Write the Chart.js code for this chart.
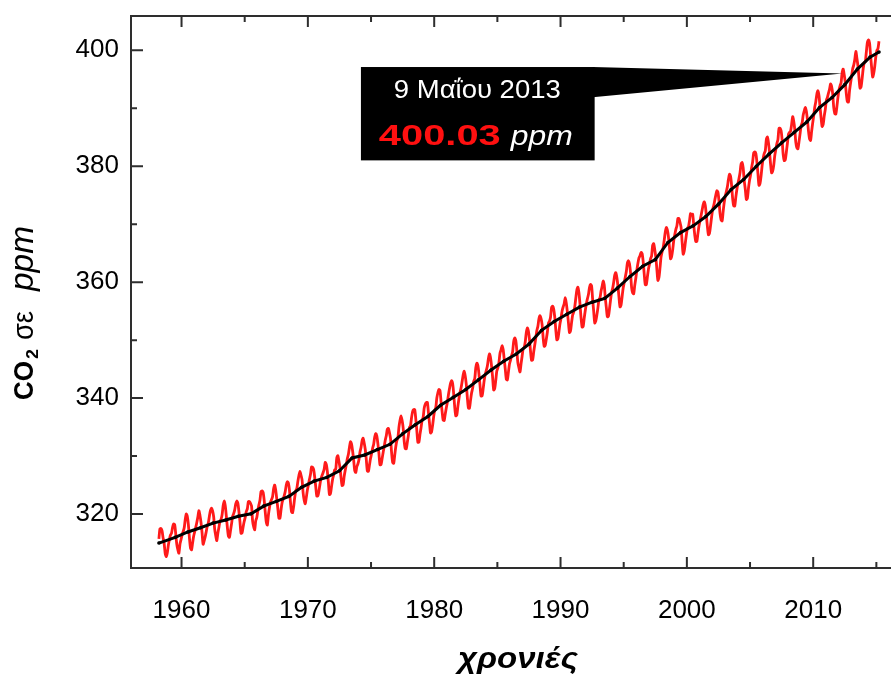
<!DOCTYPE html>
<html><head><meta charset="utf-8">
<script src="https://cdn.jsdelivr.net/npm/chart.js@4.4.1/dist/chart.umd.min.js"></script>
<style>html,body{margin:0;padding:0;background:#fff;overflow:hidden}#wrap{width:893px;height:675px;position:relative}</style>
</head><body><div id="wrap"><canvas id="c" width="893" height="675"></canvas></div>
<script>
// ---- DATA ----
const firstYear = 1958, firstMonth = 3; // series starts March 1958
const co2Monthly = [
/*1958*/ 315.71,317.45,317.50,317.10,315.86,314.93,313.20,312.66,313.33,314.67,
/*1959*/ 315.62,316.38,316.71,317.72,318.29,318.15,316.54,314.80,313.84,313.26,314.80,315.58,
/*1960*/ 316.43,316.97,317.58,319.02,320.03,319.59,318.18,315.91,314.16,313.83,315.00,316.19,
/*1961*/ 316.93,317.70,318.54,319.48,320.58,319.77,318.57,316.79,314.80,315.38,316.10,317.01,
/*1962*/ 317.94,318.56,319.68,320.63,321.01,320.55,319.58,317.40,316.26,315.42,316.69,317.69,
/*1963*/ 318.74,319.08,319.86,321.39,322.25,321.47,319.74,317.77,316.21,315.99,317.12,318.31,
/*1964*/ 319.57,320.07,320.73,321.77,322.25,321.89,320.44,318.70,316.70,316.79,317.79,318.71,
/*1965*/ 319.44,320.44,320.89,322.13,322.16,321.87,321.39,318.81,317.81,317.30,318.87,319.42,
/*1966*/ 320.62,321.59,322.39,323.87,324.01,323.75,322.39,320.37,318.64,318.10,319.79,321.08,
/*1967*/ 322.07,322.50,323.04,324.42,325.00,324.09,322.55,320.92,319.31,319.31,320.72,321.96,
/*1968*/ 322.57,323.15,323.89,325.02,325.57,325.36,324.14,322.03,320.41,320.25,321.31,322.84,
/*1969*/ 324.00,324.42,325.64,326.66,327.38,326.70,325.89,323.67,322.38,321.78,322.85,324.11,
/*1970*/ 325.03,325.99,326.87,328.13,328.07,327.66,326.35,324.69,323.10,323.16,323.98,325.13,
/*1971*/ 326.17,326.68,327.18,327.78,328.92,328.57,327.34,325.46,323.36,323.57,324.80,326.01,
/*1972*/ 326.77,327.63,327.75,329.72,330.07,329.09,328.05,326.32,324.93,325.06,326.50,327.55,
/*1973*/ 328.54,329.56,330.30,331.50,332.48,332.07,330.87,329.31,327.51,327.18,328.16,328.64,
/*1974*/ 329.35,330.71,331.48,332.65,333.09,332.25,331.18,329.40,327.44,327.37,328.46,329.58,
/*1975*/ 330.40,331.36,332.04,333.29,333.88,333.47,332.15,330.45,328.49,328.53,329.53,330.63,
/*1976*/ 331.59,332.75,333.52,334.64,334.77,334.00,333.06,330.68,328.95,328.75,330.15,331.62,
/*1977*/ 332.66,333.13,334.95,336.13,336.93,336.17,334.88,332.56,331.29,331.27,332.41,333.60,
/*1978*/ 334.95,335.25,336.66,337.69,338.03,338.01,336.41,334.41,332.37,332.41,333.75,334.90,
/*1979*/ 336.14,336.69,338.27,338.96,339.21,339.26,337.54,335.75,333.98,334.19,335.31,336.81,
/*1980*/ 337.90,338.34,340.01,340.93,341.48,341.33,339.40,337.70,336.19,336.15,337.27,338.32,
/*1981*/ 339.29,340.55,341.61,342.53,343.03,342.54,340.78,338.44,336.95,337.08,338.58,339.88,
/*1982*/ 340.96,341.73,342.81,343.97,344.63,343.79,342.32,340.09,338.28,338.29,339.60,340.90,
/*1983*/ 341.68,342.90,343.33,345.25,346.03,345.63,344.19,342.27,340.35,340.38,341.59,343.05,
/*1984*/ 344.10,344.79,345.52,346.84,347.63,346.98,345.53,343.55,341.40,341.67,343.10,344.70,
/*1985*/ 345.21,346.16,347.74,348.34,349.06,348.38,346.72,345.02,343.27,343.13,344.49,345.88,
/*1986*/ 346.56,347.28,348.01,349.77,350.38,349.93,348.16,346.08,345.22,344.51,345.93,347.22,
/*1987*/ 348.52,348.73,349.73,351.31,352.09,351.53,350.11,348.08,346.52,346.59,347.96,349.16,
/*1988*/ 350.39,351.64,352.40,353.69,354.21,353.72,352.69,350.40,348.92,349.13,350.20,351.41,
/*1989*/ 352.91,353.27,353.96,355.64,355.86,355.37,353.99,351.81,350.05,350.25,351.49,352.85,
/*1990*/ 353.80,355.04,355.73,356.32,357.32,356.34,354.84,353.01,351.31,351.62,353.07,354.33,
/*1991*/ 354.84,355.73,357.23,358.66,359.13,358.13,356.19,353.85,352.25,352.35,353.81,355.12,
/*1992*/ 356.25,357.11,357.86,359.09,359.59,359.33,357.01,354.94,352.96,353.32,354.32,355.57,
/*1993*/ 357.00,357.31,358.47,359.27,360.19,359.52,357.33,355.64,354.03,354.12,355.41,356.91,
/*1994*/ 358.24,358.92,359.99,361.23,361.65,360.81,359.38,357.46,355.73,356.07,357.53,358.98,
/*1995*/ 359.92,360.86,361.83,363.30,363.69,363.19,361.64,359.12,358.17,357.99,359.45,360.68,
/*1996*/ 362.07,363.24,364.17,364.57,365.13,364.92,363.55,361.38,359.54,359.58,360.89,362.24,
/*1997*/ 363.09,364.03,364.51,366.35,366.64,365.59,364.31,362.25,360.29,360.82,362.49,364.38,
/*1998*/ 365.26,365.98,367.24,368.66,369.42,368.99,367.82,365.95,364.02,364.40,365.52,367.13,
/*1999*/ 368.18,369.07,369.68,370.99,370.96,370.30,369.45,366.90,364.81,365.37,366.72,368.10,
/*2000*/ 369.29,369.54,370.60,371.82,371.58,371.70,369.86,368.13,367.00,367.03,368.37,369.67,
/*2001*/ 370.59,371.51,372.43,373.37,373.85,373.21,371.51,369.61,368.18,368.45,369.76,371.24,
/*2002*/ 372.53,373.20,374.12,375.02,375.76,375.52,374.01,371.85,370.75,370.55,372.25,373.79,
/*2003*/ 374.88,375.64,376.45,377.73,378.60,378.28,376.70,374.38,373.17,373.14,374.66,375.99,
/*2004*/ 377.00,377.87,378.88,380.35,380.62,379.69,377.47,376.01,374.25,374.46,376.16,377.51,
/*2005*/ 378.46,379.73,380.77,382.29,382.45,382.21,380.74,378.74,376.70,377.00,378.35,380.11,
/*2006*/ 381.38,382.19,382.67,384.61,385.03,384.05,382.46,380.41,378.85,379.13,380.15,381.82,
/*2007*/ 382.89,383.90,384.58,386.50,386.56,386.10,384.50,381.99,380.96,381.12,382.45,383.95,
/*2008*/ 385.52,385.82,386.03,387.21,388.54,387.76,386.36,384.09,383.18,382.99,384.19,385.56,
/*2009*/ 386.94,387.48,388.82,389.55,390.14,389.48,388.03,386.11,384.74,384.43,386.02,387.42,
/*2010*/ 388.71,390.20,391.17,392.46,393.00,392.15,390.20,388.35,386.85,387.24,388.67,389.79,
/*2011*/ 391.33,391.86,392.60,393.25,394.19,393.74,392.51,390.13,389.08,389.00,390.28,391.86,
/*2012*/ 393.12,393.86,394.40,396.18,396.74,395.71,394.36,392.39,391.11,391.05,392.98,394.34,
/*2013*/ 395.55,396.80,397.43,398.41,399.78,398.61,397.32,395.20,393.45,393.70,395.16,396.84,
/*2014*/ 397.85,398.01,399.77,401.38,401.78,401.25,399.10,397.03,395.38,396.03,397.28,398.91,
/*2015*/ 399.98,400.28,401.54
];
// trend (seasonally smoothed) curve: decimal years and values
const trendYears = [1958.21,1959.5,1960.5,1961.5,1962.5,1963.5,1964.5,1965.5,1966.5,1967.5,1968.5,1969.5,
  1970.5,1971.5,1972.5,1973.5,1974.5,1975.5,1976.5,1977.5,1978.5,1979.5,1980.5,1981.5,1982.5,1983.5,1984.5,
  1985.5,1986.5,1987.5,1988.5,1989.5,1990.5,1991.5,1992.5,1993.5,1994.5,1995.5,1996.5,1997.5,1998.5,1999.5,
  2000.5,2001.5,2002.5,2003.5,2004.5,2005.5,2006.5,2007.5,2008.5,2009.5,2010.5,2011.5,2012.5,2013.5,2014.5,2015.21];
const trendValues = [315.0,315.98,316.91,317.64,318.45,318.99,319.62,320.04,321.37,322.18,323.05,324.62,
  325.68,326.32,327.46,329.68,330.19,331.13,332.03,333.84,335.41,336.84,338.76,340.12,341.48,343.15,344.85,
  346.35,347.61,349.31,351.69,353.20,354.45,355.70,356.54,357.21,358.96,360.97,362.74,363.88,366.84,368.54,
  369.71,371.32,373.45,375.98,377.70,379.98,382.09,384.02,385.83,387.64,390.10,391.85,394.06,396.74,398.81,399.7];
const xTickLabels = [1960,1970,1980,1990,2000,2010];
const xMinorTicks = [1965,1975,1985,1995,2005,2015];
const yTickLabels = [320,340,360,380,400];
const yMinorTicks = [330,350,370,390];
const noteDate = '9 Μαΐου 2013';
const noteValue = '400.03';
const noteUnit = 'ppm';
const noteTip = {x: 2012.3, y: 396.0};
const xTitle = 'χρονιές';

// ---- build ----
const FONT = '"Liberation Sans", Arial, Helvetica, sans-serif';
const redPts = co2Monthly.map((v, i) => ({x: firstYear + (firstMonth - 1 + i + 0.5) / 12, y: v}));
const trendPts = trendValues.map((v, i) => ({x: trendYears[i], y: v}));

function fitText(ctx, text, x, y, w) {
  const m = ctx.measureText(text).width;
  ctx.save(); ctx.translate(x, y); ctx.scale(w / m, 1); ctx.textAlign = 'left'; ctx.fillText(text, 0, 0); ctx.restore();
}

const decor = {
  id: 'decor',
  afterDatasetsDraw(chart) {
    const {ctx, chartArea: a, scales: {x, y}} = chart;
    ctx.save();
    // frame
    ctx.strokeStyle = '#2e2e2e'; ctx.lineWidth = 2; ctx.lineCap = 'butt';
    ctx.beginPath();
    ctx.moveTo(a.right + 2, a.top); ctx.lineTo(a.left, a.top); ctx.lineTo(a.left, a.bottom); ctx.lineTo(a.right + 2, a.bottom);
    ctx.stroke();
    ctx.beginPath();
    const tick = (v, len) => { const px = x.getPixelForValue(v);
      ctx.moveTo(px, a.top); ctx.lineTo(px, a.top + len);
      ctx.moveTo(px, a.bottom); ctx.lineTo(px, a.bottom - len); };
    xTickLabels.forEach(v => tick(v, 11)); xMinorTicks.forEach(v => tick(v, 6));
    const ytick = (v, len) => { const py = y.getPixelForValue(v); ctx.moveTo(a.left, py); ctx.lineTo(a.left + len, py); };
    yTickLabels.forEach(v => ytick(v, 12)); yMinorTicks.forEach(v => ytick(v, 6));
    ctx.stroke();

    // annotation box + wedge
    const bx0 = x.getPixelForValue(1974.2), bx1 = x.getPixelForValue(1992.7);
    const by0 = y.getPixelForValue(397.1), by1 = y.getPixelForValue(381.0);
    const wb = y.getPixelForValue(391.9);
    const tx = x.getPixelForValue(noteTip.x), ty = y.getPixelForValue(noteTip.y);
    ctx.fillStyle = '#000';
    ctx.fillRect(bx0, by0, bx1 - bx0, by1 - by0);
    ctx.beginPath(); ctx.moveTo(bx1 - 2, by0); ctx.lineTo(tx, ty); ctx.lineTo(bx1 - 2, wb); ctx.closePath(); ctx.fill();
    const cx = (bx0 + bx1) / 2;
    ctx.fillStyle = '#fff'; ctx.textBaseline = 'alphabetic';
    ctx.font = '25px ' + FONT;
    fitText(ctx, noteDate, cx - 84, by0 + 31, 167);
    ctx.fillStyle = '#ff1010'; ctx.font = 'bold 30px ' + FONT;
    fitText(ctx, noteValue, cx - 99, by0 + 78, 122);
    ctx.fillStyle = '#fff'; ctx.font = 'italic 28px ' + FONT;
    fitText(ctx, noteUnit, cx + 33, by0 + 78, 62);
    ctx.restore();
  },
  afterDraw(chart) {
    const {ctx} = chart;
    ctx.save(); ctx.fillStyle = '#000'; ctx.textBaseline = 'alphabetic';
    // x title
    ctx.font = 'bold italic 30px ' + FONT;
    fitText(ctx, xTitle, 458, 668, 120);
    // y title, rotated
    ctx.translate(33, 400); ctx.rotate(-Math.PI / 2);
    let pos = 0;
    ctx.font = 'bold 28px ' + FONT; fitText(ctx, 'CO', pos, 0, 39); pos += 41;
    ctx.font = 'bold 17px ' + FONT; fitText(ctx, '2', pos, 5, 10); pos += 10 + 9;
    ctx.font = '30px ' + FONT; fitText(ctx, 'σε', pos, 0, 29); pos += 29 + 20;
    ctx.font = 'italic 33px ' + FONT; fitText(ctx, 'ppm', pos, 0, 65);
    ctx.restore();
  }
};

new Chart(document.getElementById('c'), {
  type: 'line',
  data: { datasets: [
    { data: redPts, borderColor: '#ff1a1a', borderWidth: 2.8, pointRadius: 0, tension: 0.25, order: 2 },
    { data: trendPts, borderColor: '#000', backgroundColor: '#000', borderWidth: 3, pointRadius: 1.8, pointBorderWidth: 0, tension: 0, order: 1 }
  ]},
  options: {
    responsive: false, animation: false, devicePixelRatio: 1,
    layout: { padding: { top: 16, right: 0, left: 0, bottom: 0 } },
    plugins: { legend: { display: false }, tooltip: { enabled: false } },
    scales: {
      x: { type: 'linear', min: 1956, max: 2016,
        afterFit: s => { s.height = 107; s.paddingLeft = 0; s.paddingRight = 0; },
        afterBuildTicks: s => { s.ticks = xTickLabels.map(v => ({value: v})); },
        grid: { display: false, drawTicks: false }, border: { display: false },
        ticks: { font: { family: FONT, size: 26 }, color: '#000', padding: 27, maxRotation: 0, autoSkip: false, callback: v => String(v) } },
      y: { type: 'linear', min: 310.7, max: 405.9,
        afterFit: s => { s.width = 131; s.paddingTop = 0; s.paddingBottom = 0; },
        afterBuildTicks: s => { s.ticks = yTickLabels.map(v => ({value: v})); },
        grid: { display: false, drawTicks: false }, border: { display: false },
        ticks: { font: { family: FONT, size: 26 }, color: '#000', padding: 12, autoSkip: false, callback: v => String(v) } }
    }
  },
  plugins: [decor]
});
</script></body></html>
